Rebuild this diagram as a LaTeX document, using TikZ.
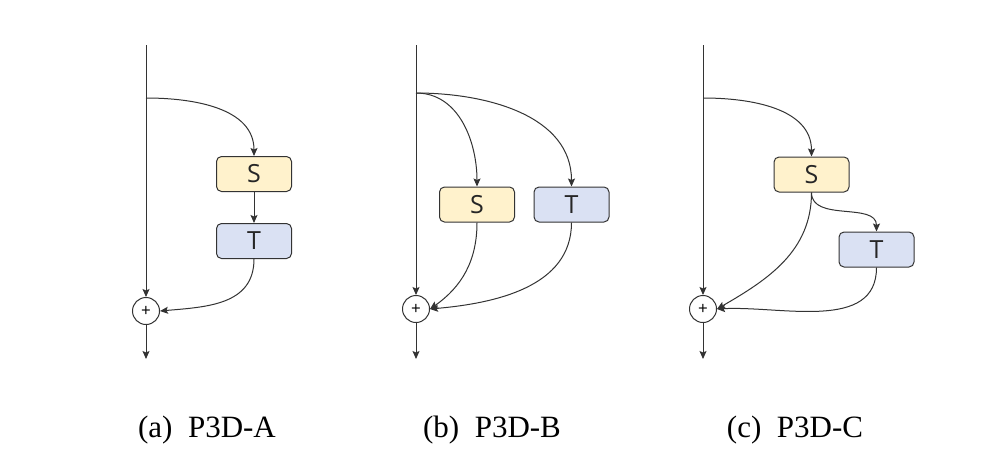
\documentclass[tikz,border=0pt]{standalone}
\usepackage{fontspec}
\setmainfont{Liberation Serif}
\newfontfamily\boxfont{Open Sans}
\usetikzlibrary{arrows.meta}
\definecolor{sfill}{HTML}{FFF2CC}
\definecolor{tfill}{HTML}{DAE1F3}
\definecolor{edge}{HTML}{333333}
\tikzset{
  arr/.style={draw=edge, line width=1pt, -{Stealth[length=8pt,width=7pt,inset=1.5pt]}},
  blockbox/.style={draw=edge, line width=1pt, rounded corners=5pt, minimum width=75pt, minimum height=35pt, inner sep=0pt, font=\boxfont\fontsize{25}{27}\selectfont, text=black!85},
  sbox/.style={blockbox, fill=sfill},
  tbox/.style={blockbox, fill=tfill},
  plusnode/.style={draw=edge, line width=1pt, circle, minimum size=27pt, inner sep=0pt, font=\boxfont\fontsize{17}{17}\selectfont},
  captext/.style={font=\fontsize{31}{33}\selectfont, anchor=base}
}
\begin{document}
\begin{tikzpicture}[x=1pt,y=-1pt]
\useasboundingbox (0,0) rectangle (1000,466);
% ---------- (a) ----------
\node[sbox] (sa) at (254,174) {S};
\node[tbox] (ta) at (254,241) {T};
\node[plusnode] (pa) at (146,311) {+};
\coordinate (topa) at (146,45);
\coordinate (bra) at (146,98);
\coordinate (outa) at (146,359);
\draw[arr] (topa) -- (pa);
\draw[arr] (pa) -- (outa);
\draw[arr] (bra) to[out=0,in=90] (sa.north);
\draw[arr] (sa) -- (ta);
\draw[arr] (ta.south) to[out=-90,in=5,looseness=1.1] (pa.east);
\node[captext] (capa) at (207,437) {(a)\enspace P3D-A};
% ---------- (b) ----------
\node[sbox] (sb) at (477,204.5) {S};
\node[tbox] (tb) at (571.5,204.5) {T};
\node[plusnode] (pb) at (416,309) {+};
\coordinate (topb) at (416,45);
\coordinate (brb) at (416,93);
\coordinate (outb) at (416,359);
\draw[arr] (topb) -- (pb);
\draw[arr] (pb) -- (outb);
\draw[arr] (brb) to[out=0,in=90] (sb.north);
\draw[arr] (brb) to[out=0,in=90] (tb.north);
\draw[arr] (sb.south) to[out=-90,in=35] (pb.east);
\draw[arr] (tb.south) to[out=-90,in=5] (pb.east);
\node[captext] (capb) at (492,437) {(b)\enspace P3D-B};
% ---------- (c) ----------
\node[sbox] (sc) at (811.5,174.5) {S};
\node[tbox] (tc) at (876.5,249.5) {T};
\node[plusnode] (pc) at (703,309) {+};
\coordinate (topc) at (703,45);
\coordinate (brc) at (703,98);
\coordinate (outc) at (703,359);
\draw[arr] (topc) -- (pc);
\draw[arr] (pc) -- (outc);
\draw[arr] (brc) to[out=0,in=90] (sc.north);
\draw[arr] (sc.south) to[out=-90,in=90] (tc.north);
\draw[arr] (sc.south) to[out=-90,in=30] (pc.east);
\draw[arr] (tc.south) to[out=-90,in=3] (pc.east);
\node[captext] (capc) at (795,437) {(c)\enspace P3D-C};
\end{tikzpicture}
\end{document}
